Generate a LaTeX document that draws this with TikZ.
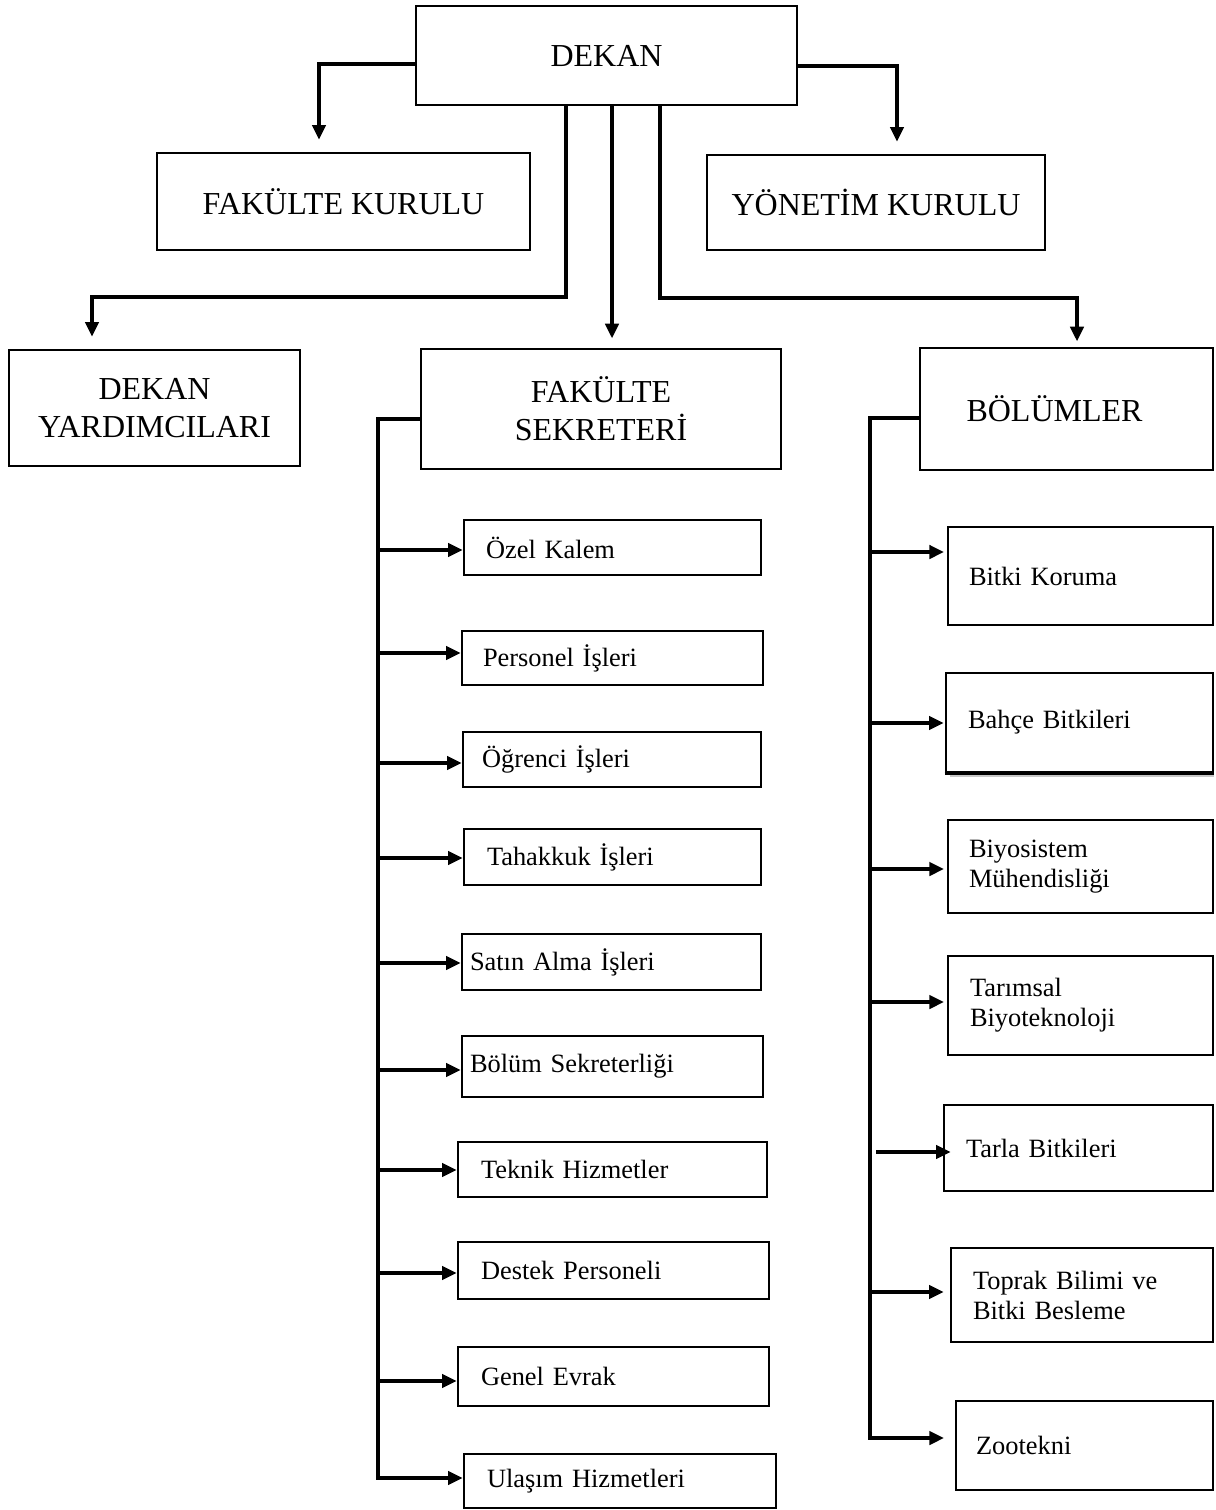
\documentclass[tikz,border=0pt]{standalone}
\usepackage{fontspec}
\setmainfont{Liberation Serif}
\usetikzlibrary{arrows.meta}
% big box: name x1 y1 x2 y2 text
\newcommand\mkbigbox[6]{%
  \pgfmathsetmacro\mybw{(#4-#2)*0.75}%
  \pgfmathsetmacro\mybh{(#5-#3)*0.75}%
  \node[bigbox, minimum width=\mybw pt, minimum height=\mybh pt] (#1) at ({(#2+#4)/2},{(#3+#5)/2}) {#6};}
% small box: name x1 y1 x2 y2 textoffset text
\newcommand\mksmallbox[7]{%
  \pgfmathsetmacro\mybw{(#4-#2)*0.75}%
  \pgfmathsetmacro\mybh{(#5-#3)*0.75}%
  \pgfmathsetmacro\mytw{(#4-#2-2*#6)*0.75}%
  \node[sbox, text width=\mytw pt, minimum width=\mybw pt, minimum height=\mybh pt] (#1) at ({(#2+#4)/2},{(#3+#5)/2}) {#7};}
\tikzset{
  bigbox/.style={draw, line width=2pt, inner sep=0pt, align=center, font=\fontsize{24}{28.5}\selectfont},
  sbox/.style={draw, line width=2pt, inner xsep=0pt, inner ysep=0pt, align=left, font=\fontsize{19.8}{22.5}\selectfont},
  conn/.style={line width=2.6pt},
  arr/.style={conn, -{Triangle[length=11pt,width=10pt]}},
}
\begin{document}
\begin{tikzpicture}[x=0.75pt,y=-0.75pt]
\useasboundingbox (0,0) rectangle (1216,1510);
% top level
\mkbigbox{dek}{416}{6}{797}{105}{DEKAN}
\mkbigbox{fk}{157}{153}{530}{250}{FAKÜLTE KURULU}
\mkbigbox{yk}{707}{155}{1045}{250}{YÖNETİM KURULU}
\mkbigbox{dy}{9}{350}{300}{466}{DEKAN\\YARDIMCILARI}
\mkbigbox{fs}{421}{349}{781}{469}{FAKÜLTE\\SEKRETERİ}
\mkbigbox{bol}{920}{348}{1213}{470}{BÖLÜMLER\hspace*{18pt}}
% left column
\mksmallbox{oz}{464}{520}{761}{575}{22}{Özel Kalem}
\mksmallbox{pe}{462}{631}{763}{685}{21}{Personel İşleri}
\mksmallbox{og}{463}{732}{761}{787}{19}{Öğrenci İşleri}
\mksmallbox{ta}{464}{829}{761}{885}{23}{Tahakkuk İşleri}
\mksmallbox{sa}{462}{934}{761}{990}{8}{Satın Alma İşleri}
\mksmallbox{bs}{462}{1036}{763}{1097}{8}{Bölüm Sekreterliği}
\mksmallbox{te}{458}{1142}{767}{1197}{23}{Teknik Hizmetler}
\mksmallbox{de}{458}{1242}{769}{1299}{23}{Destek Personeli}
\mksmallbox{ge}{458}{1347}{769}{1406}{23}{Genel Evrak}
\mksmallbox{ul}{464}{1454}{776}{1508}{23}{Ulaşım Hizmetleri}
% right column
\mksmallbox{bk}{948}{527}{1213}{625}{21}{Bitki Koruma}
\mksmallbox{bb}{946}{673}{1213}{772}{22}{Bahçe Bitkileri}
\mksmallbox{bm}{948}{820}{1213}{913}{21}{Biyosistem\\Mühendisliği}
\mksmallbox{tb}{948}{956}{1213}{1055}{22}{Tarımsal\\Biyoteknoloji}
\mksmallbox{tr}{944}{1105}{1213}{1191}{22}{Tarla Bitkileri}
\mksmallbox{tp}{951}{1248}{1213}{1342}{22}{Toprak Bilimi ve\\Bitki Besleme}
\mksmallbox{zo}{956}{1401}{1213}{1490}{20}{Zootekni}
\fill[gray!45] ([xshift=4pt]bb.south west) rectangle ([yshift=-3pt]bb.south east);
\draw[line width=2pt] (bb.south west) -- (bb.south east);
% top connectors
\draw[arr, shorten >=9pt] (dek.west |- 0,64) -| (fk.north -| 319,0);
\draw[arr, shorten >=9pt] (dek.east |- 0,66) -| (yk.north -| 897,0);
\draw[arr, shorten >=9pt] (dek.south -| 566,0) |- (92,297) -- (dy.north -| 92,0);
\draw[arr, shorten >=7pt] (dek.south -| 612,0) -- (fs.north -| 612,0);
\draw[arr, shorten >=4pt] (dek.south -| 660,0) |- (1077,298) -- (bol.north -| 1077,0);
% left spine
\coordinate (ls) at (378,419);
\draw[arr] (fs.west |- ls) -- (ls) -- (ls |- 0,1478) -- (ul.west |- 0,1478);
\foreach \n/\y in {oz/550, pe/653, og/763, ta/858, sa/963, bs/1070, te/1170, de/1273, ge/1381}
  \draw[arr] (ls |- 0,\y) -- (\n.west |- 0,\y);
% right spine
\coordinate (rs) at (870,418);
\draw[arr, shorten >=8pt] (bol.west |- rs) -- (rs) -- (rs |- 0,1438) -- (zo.west |- 0,1438);
\foreach \n/\y/\s in {bk/552/2pt, bb/723/0.75pt, bm/869/2pt, tb/1002/2pt, tp/1292/4.5pt}
  \draw[arr, shorten >=\s] (rs |- 0,\y) -- (\n.west |- 0,\y);
\draw[arr, shorten >=-6pt, shorten <=4.5pt] (rs |- 0,1152) -- (tr.west |- 0,1152);
\end{tikzpicture}
\end{document}
